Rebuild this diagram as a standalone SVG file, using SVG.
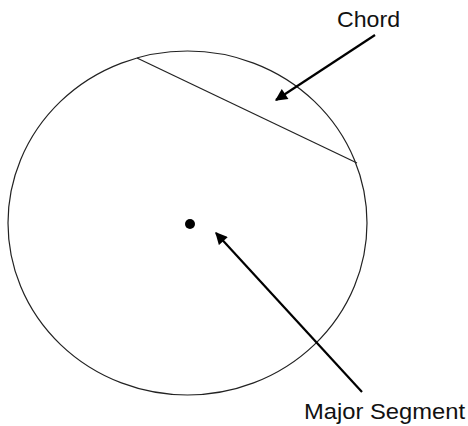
<svg xmlns="http://www.w3.org/2000/svg" width="468" height="426" viewBox="0 0 468 426">
<style>
.outline{fill:none;stroke:#222;stroke-width:1.2}
.arrow{fill:none;stroke:#000;stroke-width:2.2}
.lbl{font-family:"Liberation Sans",Arial,sans-serif;font-size:22px;fill:#111}
</style>
<defs>
<marker id="ah" viewBox="0 0 10 10" refX="9" refY="5" markerWidth="6" markerHeight="5.5" orient="auto" markerUnits="strokeWidth">
<path d="M0,0 L10,5 L0,10 Z" fill="#000"/>
</marker>
</defs>
<rect width="468" height="426" fill="#fff"/>
<g id="circle">
<ellipse class="outline" cx="187.5" cy="223" rx="179.5" ry="172"/>
</g>
<g id="chord">
<line class="outline" x1="137" y1="58" x2="357" y2="163"/>
</g>
<g id="center">
<circle cx="190" cy="224" r="5" fill="#000"/>
</g>
<g id="connectors">
<line class="arrow" x1="375" y1="35" x2="276" y2="100" marker-end="url(#ah)"/>
<line class="arrow" x1="362" y1="392" x2="216" y2="233" marker-end="url(#ah)"/>
</g>
<g id="label-chord">
<text class="lbl" x="337" y="27" textLength="63" lengthAdjust="spacingAndGlyphs">Chord</text>
</g>
<g id="label-major">
<text class="lbl" x="304" y="419" textLength="161" lengthAdjust="spacingAndGlyphs">Major Segment</text>
</g>
</svg>
